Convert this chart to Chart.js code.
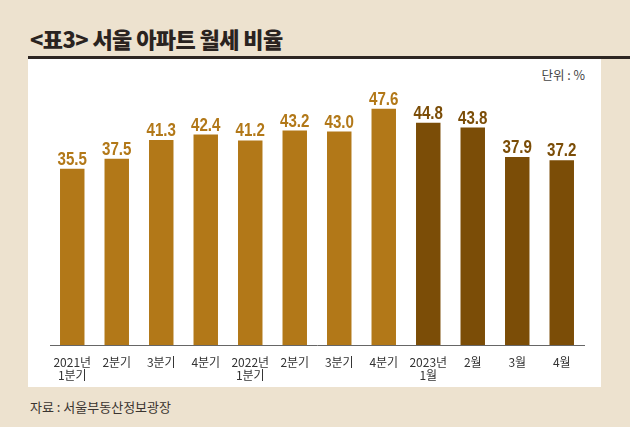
<!DOCTYPE html>
<html>
<head>
<meta charset="utf-8">
<script src="https://cdn.jsdelivr.net/npm/chart.js@4"></script>
<style>
  html, body { margin: 0; padding: 0; }
  body { width: 630px; height: 427px; background: #ede2cf; position: relative; overflow: hidden; font-family: "Noto Sans CJK KR", sans-serif; }
  #title { position: absolute; left: 30px; top: 25px; font-size: 22px; font-weight: 900; color: #2a2320; letter-spacing: -0.6px; line-height: 27px; }
  #rule { position: absolute; left: 28px; right: 0; top: 56px; height: 3px; background: #2d2622; }
  #panel { position: absolute; left: 28px; top: 59px; width: 573px; height: 328px; background: #fff; }
  #unit { position: absolute; right: 16px; top: 6px; font-size: 12.5px; color: #444; }
  #source { position: absolute; left: 30px; top: 398px; font-size: 13px; color: #3a3430; line-height: 18px; }
  canvas { position: absolute; left: 0; top: 0; }
</style>
</head>
<body>
<div id="title">&lt;표3&gt; 서울 아파트 월세 비율</div>
<div id="rule"></div>
<div id="panel">
  <div id="unit">단위 : %</div>
  <canvas id="chart" width="573" height="328"></canvas>
</div>
<div id="source">자료 : 서울부동산정보광장</div>
<script>
const categories = [
  ["2021년", "1분기"], "2분기", "3분기", "4분기",
  ["2022년", "1분기"], "2분기", "3분기", "4분기",
  ["2023년", "1월"], "2월", "3월", "4월"
];
const monthlyRentRatio = [35.5, 37.5, 41.3, 42.4, 41.2, 43.2, 43.0, 47.6, 44.8, 43.8, 37.9, 37.2];
const quarterColor = "#b27818";
const monthColor = "#7b4d07";
const barColors = monthlyRentRatio.map((_, i) => (i < 8 ? quarterColor : monthColor));

// value labels above bars, squeezed horizontally like the condensed face in the original
const valueLabels = {
  id: "valueLabels",
  afterDatasetsDraw(chart) {
    const ctx = chart.ctx;
    const meta = chart.getDatasetMeta(0);
    const squeeze = 0.84;
    ctx.save();
    ctx.font = "bold 18px 'Liberation Sans', sans-serif";
    ctx.textAlign = "center";
    ctx.textBaseline = "alphabetic";
    meta.data.forEach((bar, i) => {
      ctx.save();
      ctx.translate(bar.x, bar.y - 4);
      ctx.scale(squeeze, 1);
      ctx.fillStyle = barColors[i];
      ctx.fillText(monthlyRentRatio[i].toFixed(1), 0, 0);
      ctx.restore();
    });
    ctx.restore();
  }
};

new Chart(document.getElementById("chart"), {
  type: "bar",
  data: {
    labels: categories,
    datasets: [{
      data: monthlyRentRatio,
      backgroundColor: barColors,
      categoryPercentage: 1,
      barPercentage: 0.55
    }]
  },
  options: {
    responsive: false,
    animation: false,
    layout: { padding: { left: 22, right: 17, top: 13, bottom: 0 } },
    plugins: { legend: { display: false }, tooltip: { enabled: false } },
    scales: {
      x: {
        grid: { display: false },
        border: { display: true, color: "#666", width: 1 },
        ticks: {
          color: "#333",
          padding: 3,
          maxRotation: 0,
          autoSkip: false,
          font: { family: "'Noto Sans CJK KR'", size: 12, lineHeight: 1.1 }
        },
        afterFit(scale) { scale.height = 42; }
      },
      y: { display: false, min: 0, max: 55 }
    }
  },
  plugins: [valueLabels]
});
</script>
</body>
</html>
